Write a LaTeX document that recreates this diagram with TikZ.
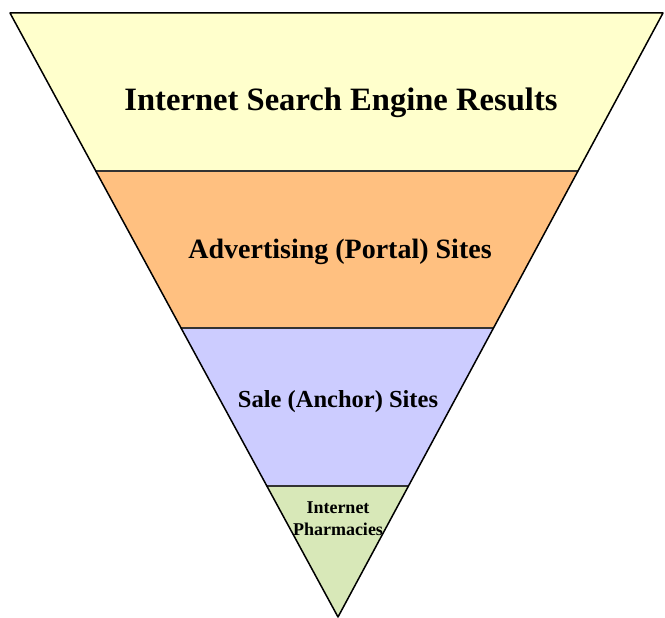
\documentclass[tikz,border=0pt]{standalone}
\usepackage{fontspec}
\setmainfont{Liberation Serif}
\definecolor{bandyellow}{HTML}{FFFFCC}
\definecolor{bandorange}{HTML}{FFC080}
\definecolor{bandblue}{HTML}{CCCCFF}
\definecolor{bandgreen}{HTML}{D8E8B8}
\begin{document}
\begin{tikzpicture}[x=1pt, y=-1pt, line join=round, line cap=round,
    declare function={xl(\y)=10+(\y-13)*0.54305; xr(\y)=663-(\y-13)*0.53808;},
    bandtext/.style={align=center, inner sep=0pt, anchor=base}]
        \useasboundingbox (0,0) rectangle (665,618);
        \coordinate (tl) at (10,13);
        \coordinate (tr) at (663,13);
        \coordinate (apex) at (338,617);
        % bands, top to bottom
        \fill[bandyellow] (tl) -- (tr) -- ({xr(171)},171) -- ({xl(171)},171) -- cycle;
        \fill[bandorange] ({xl(171)},171) -- ({xr(171)},171) -- ({xr(328)},328) -- ({xl(328)},328) -- cycle;
        \fill[bandblue] ({xl(328)},328) -- ({xr(328)},328) -- ({xr(486)},486) -- ({xl(486)},486) -- cycle;
        \fill[bandgreen] ({xl(486)},486) -- ({xr(486)},486) -- (apex) -- cycle;
        \draw[black!80, line width=1.1pt] ({xl(171)},171) -- ({xr(171)},171)
        ({xl(328)},328) -- ({xr(328)},328)
        ({xl(486)},486) -- ({xr(486)},486);
        \draw[line width=1.5pt] (tl) -- (tr) -- (apex) -- cycle;
        % labels
        \node[bandtext, font=\fontsize{32.6}{36}\selectfont\bfseries] (search) at (341,111) {Internet Search Engine Results};
        \node[bandtext, font=\fontsize{28}{32}\selectfont\bfseries] (portal) at (340,258) {Advertising (Portal) Sites};
        \node[bandtext, font=\fontsize{24.5}{28}\selectfont\bfseries] (anchor) at (338,407) {Sale (Anchor) Sites};
        \node[bandtext, font=\fontsize{18}{22}\selectfont\bfseries] (pharm) at (338,535) {Internet\\Pharmacies};
    \end{tikzpicture}
\end{document}
